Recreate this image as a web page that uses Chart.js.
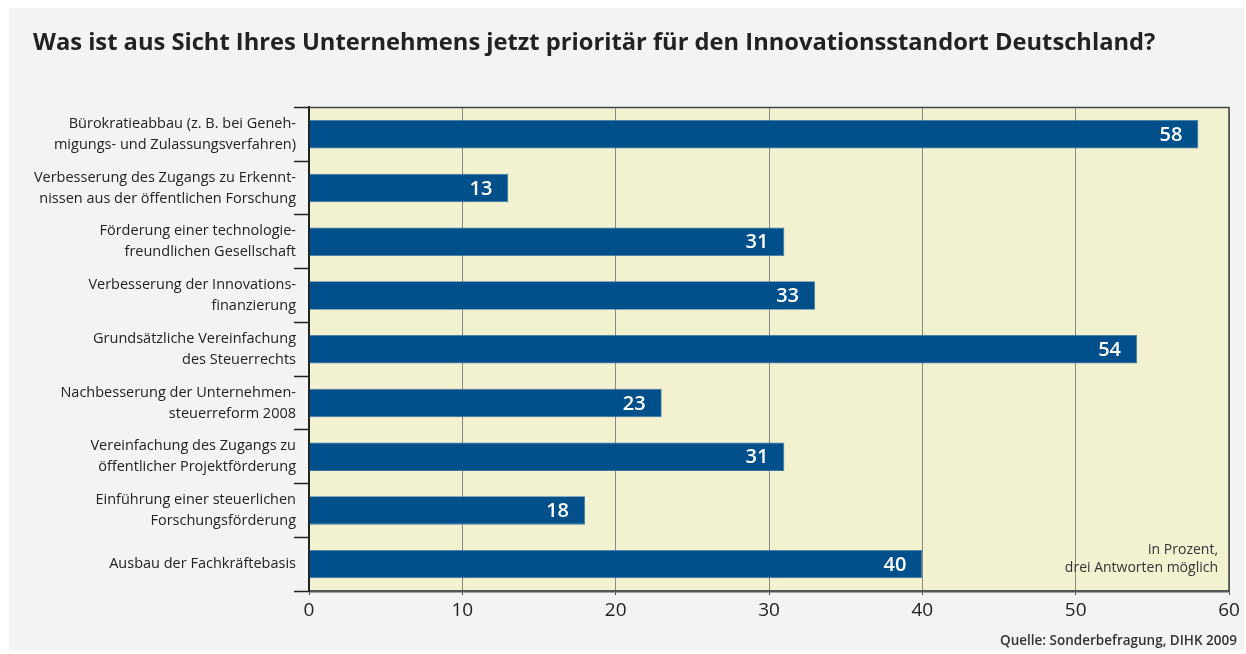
<!DOCTYPE html>
<html>
<head>
<meta charset="utf-8">
<script src="https://cdn.jsdelivr.net/npm/chart.js@4/dist/chart.umd.min.js"></script>
<style>
  html, body { margin: 0; padding: 0; background: #ffffff; }
  #panel { position: absolute; left: 9px; top: 8px; width: 1235px; height: 642px; background: #f2f3f2; }
  #wrap { position: absolute; left: 0; top: 0; width: 1246px; height: 654px; }
</style>
</head>
<body>
<div id="panel"></div>
<div id="wrap"><canvas id="chart" width="1246" height="654"></canvas></div>
<script>
const categories = [
    ['Bürokratieabbau (z. B. bei Geneh-', 'migungs- und Zulassungsverfahren)'],
    ['Verbesserung des Zugangs zu Erkennt-', 'nissen aus der öffentlichen Forschung'],
    ['Förderung einer technologie-', 'freundlichen Gesellschaft'],
    ['Verbesserung der Innovations-', 'finanzierung'],
    ['Grundsätzliche Vereinfachung', 'des Steuerrechts'],
    ['Nachbesserung der Unternehmen-', 'steuerreform 2008'],
    ['Vereinfachung des Zugangs zu', 'öffentlicher Projektförderung'],
    ['Einführung einer steuerlichen', 'Forschungsförderung'],
    'Ausbau der Fachkräftebasis'
];
const values = [58, 13, 31, 33, 54, 23, 31, 18, 40];
const xTicks = [0, 10, 20, 30, 40, 50, 60];

const FONT = "'Open Sans', 'Noto Sans', sans-serif";

const decorations = {
    id: 'decorations',
    beforeDraw(chart) {
        const a = chart.chartArea, ctx = chart.ctx;
        ctx.save();
        ctx.fillStyle = '#f2f1d0';
        ctx.fillRect(a.left, a.top, a.right - a.left, a.bottom - a.top);
        ctx.restore();
    },
    afterDatasetsDraw(chart) {
        const a = chart.chartArea, ctx = chart.ctx;
        const meta = chart.getDatasetMeta(0);
        ctx.save();
        ctx.fillStyle = '#ffffff';
        ctx.font = '600 20px ' + FONT;
        ctx.textAlign = 'right';
        ctx.textBaseline = 'middle';
        meta.data.forEach((bar, i) => {
            ctx.fillText(String(values[i]), bar.x - 16, bar.y + 1);
        });
        // frame top / right
        ctx.strokeStyle = '#444';
        ctx.lineWidth = 1.5;
        ctx.beginPath();
        ctx.moveTo(a.left, a.top);
        ctx.lineTo(a.right, a.top);
        ctx.lineTo(a.right, a.bottom);
        ctx.stroke();
        // notes
        ctx.fillStyle = '#333';
        ctx.font = '14px ' + FONT;
        ctx.textBaseline = 'alphabetic';
        ctx.fillText('in Prozent,', a.right - 11, a.bottom - 37);
        ctx.fillText('drei Antworten möglich', a.right - 11, a.bottom - 19);
        ctx.font = '600 13.5px ' + FONT;
        ctx.fillText('Quelle: Sonderbefragung, DIHK 2009', chart.width - 9, 645);
        ctx.restore();
    }
};

new Chart(document.getElementById('chart'), {
    type: 'bar',
    data: {
        labels: categories,
        datasets: [{
            data: values,
            backgroundColor: '#01508b',
            borderColor: '#3b78a8',
            borderWidth: 0.8,
            borderSkipped: 'left',
            categoryPercentage: 1,
            barPercentage: 0.53
        }]
    },
    options: {
        indexAxis: 'y',
        responsive: false,
        animation: false,
        layout: { padding: { left: 33, right: 17, top: 0, bottom: 21 } },
        plugins: {
            legend: { display: false },
            tooltip: { enabled: false },
            title: {
                display: true,
                text: 'Was ist aus Sicht Ihres Unternehmens jetzt prioritär für den Innovationsstandort Deutschland?',
                align: 'start',
                color: '#222',
                font: { family: FONT, size: 23.7, weight: 'bold' },
                padding: { top: 29, bottom: 50 }
            }
        },
        scales: {
            x: {
                min: 0,
                max: 60,
                afterBuildTicks: s => { s.ticks = xTicks.map(v => ({ value: v })); },
                grid: { color: '#8a8a80', lineWidth: 1, tickLength: 4, drawTicks: true, tickColor: '#444' },
                border: { color: '#555', width: 2.5 },
                ticks: { color: '#222', font: { family: FONT, size: 19 }, padding: 4 },
                afterFit: s => { s.height = 42; }
            },
            y: {
                grid: { offset: true, drawOnChartArea: false, tickLength: 15, tickColor: '#222', tickWidth: 1.5 },
                border: { color: '#222', width: 2 },
                ticks: { color: '#222', font: { family: FONT, size: 14.5, lineHeight: 1.45 }, padding: -2 },
                afterFit: s => { s.width = 276; }
            }
        }
    },
    plugins: [decorations]
});
</script>
</body>
</html>
